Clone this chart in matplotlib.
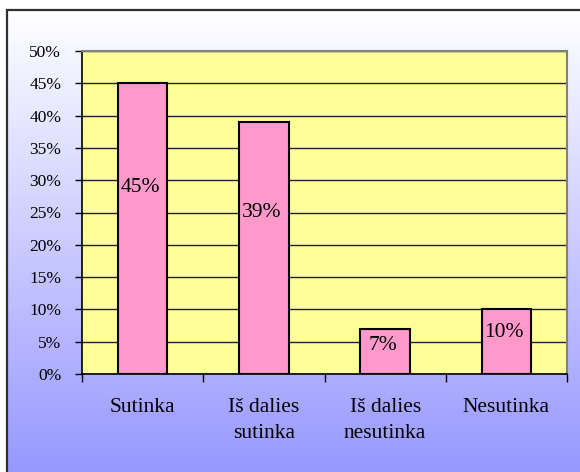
import numpy as np
import matplotlib.pyplot as plt
from matplotlib.patches import Rectangle

categorijos = ["Sutinka", "Iš dalies\nsutinka", "Iš dalies\nnesutinka", "Nesutinka"]
reiksmes = [45, 39, 7, 10]
etiketes = ["45%", "39%", "7%", "10%"]
y_ticks = [0, 5, 10, 15, 20, 25, 30, 35, 40, 45, 50]

plt.rcParams['font.family'] = ['Liberation Serif', 'DejaVu Serif']

W, H = 580, 472
fig = plt.figure(figsize=(W / 100, H / 100), dpi=100)
fig.patch.set_facecolor('white')

# fonas su gradientu (balta -> melsva)
fx0, fy1 = 7 / W, 1 - 10 / H
bg = fig.add_axes([fx0, 0, 1 - fx0, fy1], zorder=0)
t = np.linspace(0, 1, 256)[:, None]
top = np.array([1.0, 1.0, 1.0])
bot = np.array([152, 152, 255]) / 255
grad = top[None, None, :] * (1 - t[..., None]) + bot[None, None, :] * t[..., None]
grad = np.repeat(grad, 2, axis=1)
bg.imshow(grad, aspect='auto', extent=[0, 1, 0, 1])
bg.set_axis_off()
fig.add_artist(Rectangle((fx0, -0.01), 1.1, fy1 + 0.01, transform=fig.transFigure,
                         fill=False, edgecolor='#303030', linewidth=1.6, zorder=1))

# grafikas
ax = fig.add_axes([82 / W, 1 - 374 / H, 485 / W, 323 / H], zorder=2)
ax.set_facecolor('#FFFF99')
x = np.arange(len(categorijos))
bars = ax.bar(x, reiksmes, width=0.41, color='#FF99CC', edgecolor='black',
              linewidth=1.5, zorder=3)
for b, v, lab in zip(bars, reiksmes, etiketes):
    ax.text(b.get_x() + b.get_width() / 2 - 0.02, v * 0.64, lab, ha='center', va='center',
            fontsize=15.5, zorder=4)

ax.set_xlim(-0.5, len(categorijos) - 0.5)
ax.set_ylim(0, 50)
ax.set_yticks(y_ticks)
ax.set_yticklabels([f"{v}%" for v in y_ticks], fontsize=12.5)
ax.yaxis.grid(True, color='#202020', linewidth=1.0, zorder=1)
ax.set_axisbelow(True)

ax.set_xticks(np.arange(len(categorijos) + 1) - 0.5)
ax.set_xticklabels([])
ax.set_xticks(x, minor=True)
ax.set_xticklabels(categorijos, minor=True, fontsize=15.5, linespacing=1.55)
ax.tick_params(axis='x', which='minor', length=0, pad=17)
ax.tick_params(axis='x', which='major', length=6, width=1, direction='out')
ax.tick_params(axis='y', length=5, width=1, direction='out', pad=10)

for s in ['top', 'right']:
    ax.spines[s].set_color('#808080')
    ax.spines[s].set_linewidth(1.5)
for s in ['left', 'bottom']:
    ax.spines[s].set_color('black')
    ax.spines[s].set_linewidth(1.2)

fig.savefig('out.png', dpi=100)
